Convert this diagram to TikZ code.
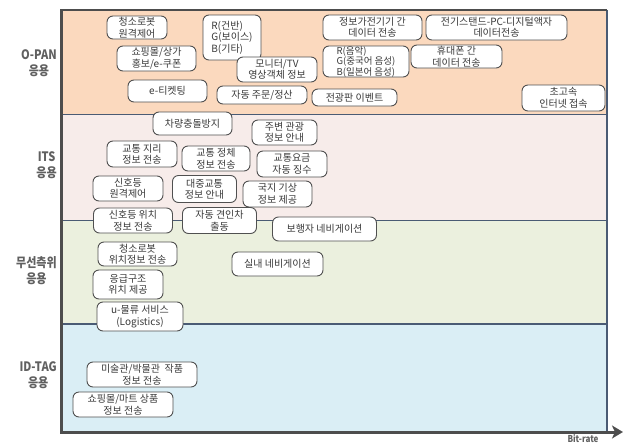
\documentclass[tikz,border=0pt]{standalone}
\usepackage{fontspec}
\setmainfont{Noto Sans CJK KR}
\newfontfamily\labfont[FakeStretch=0.85]{Noto Sans CJK KR}
\usetikzlibrary{arrows.meta}
\definecolor{opanfill}{HTML}{FBD9BE}
\definecolor{itsfill}{HTML}{F7ECEA}
\definecolor{posfill}{HTML}{EBF0DE}
\definecolor{tagfill}{HTML}{DAEEF5}
\definecolor{divline}{HTML}{4A5B74}
\definecolor{axisline}{HTML}{4D4D4D}
\definecolor{boxline}{HTML}{505050}
\definecolor{boxtext}{HTML}{3A3A3A}
\definecolor{cattext}{HTML}{606060}
\begin{document}
\begin{tikzpicture}[x=1pt,y=-1pt,
  box/.style={draw=boxline, fill=white, rounded corners=6pt, line width=0.9pt,
    align=center, inner xsep=2pt, inner ysep=1pt, text=boxtext,
    font=\fontsize{10}{11.5}\selectfont},
  lbox/.style={box, align=left, font=\fontsize{9.5}{10.5}\selectfont, inner ysep=0pt},
  cat/.style={anchor=east, align=center, text=cattext, inner sep=0pt,
    font=\labfont\bfseries\fontsize{13}{16}\selectfont},
  divider/.style={draw=divline, line width=1.4pt},
  topline/.style={draw=axisline, line width=2pt},
  axis/.style={draw=axisline, line width=3pt, line join=miter}]
\useasboundingbox (0,0) rectangle (624,445);
% bands
\fill[opanfill] (61,10) rectangle (607,114.5);
\fill[itsfill] (61,114.5) rectangle (607,220.5);
\fill[posfill] (61,220.5) rectangle (607,324);
\fill[tagfill] (61,324) rectangle (607,432);
\draw[divider] (61,114.5) -- (607,114.5);
\draw[divider] (61,220.5) -- (607,220.5);
\draw[divider] (61,324) -- (607,324);
\draw[divider] (607,10) -- (607,432);
\draw[topline] (61,10) -- (607,10);
% axes
\coordinate (ytop) at (61,9);
\coordinate (origin) at (61,432);
\coordinate (xend) at (623,432);
\draw[axis, -{Stealth[length=11pt,width=13pt,inset=3pt]}] (ytop) -- (origin) -- (xend);
\node[anchor=base, inner sep=0pt, text=cattext, font=\labfont\bfseries\fontsize{9.5}{10}\selectfont] (bitrate) at (583,442.5) {Bit-rate};
% category labels
\node[cat] (lopan) at (57,63) {O-PAN\\응용};
\node[cat] (lits) at (57,165) {ITS\\응용};
\node[cat] (lpos) at (57,271) {무선측위\\응용};
\node[cat] (ltag) at (57,375) {ID-TAG\\응용};
% O-PAN
\node[box, minimum width=60pt, minimum height=23pt] (cleanrobot) at (137,27.5) {청소로봇\\원격제어};
\node[lbox, minimum width=58pt, minimum height=45pt, font=\fontsize{10}{11.5}\selectfont] (rgbone) at (232,37.5) {R(건반)\\G(보이스)\\B(기타)};
\node[box, minimum width=79pt, minimum height=25pt] (shopping) at (156.5,58.5) {쇼핑몰/상가\\홍보/e-쿠폰};
\node[box, minimum width=80pt, minimum height=25pt] (monitor) at (277,69.5) {모니터/TV\\영상객체 정보};
\node[box, minimum width=79pt, minimum height=22pt] (eticket) at (167.5,91) {e-티켓팅};
\node[box, minimum width=90pt, minimum height=18pt] (autoorder) at (262,95) {자동 주문/정산};
\node[box, minimum width=99pt, minimum height=25pt] (appliance) at (372.5,27.5) {정보가전기기 간\\데이터 전송};
\node[box, minimum width=141pt, minimum height=25pt] (lamp) at (496.5,27.5) {전기스탠드-PC-디지털액자\\데이터전송};
\node[lbox, minimum width=86pt, minimum height=31pt] (rgbtwo) at (366,61.5) {R(음악)\\G(중국어 음성)\\B(일본어 음성)};
\node[box, minimum width=91pt, minimum height=23pt] (phone) at (456.5,56.5) {휴대폰 간\\데이터 전송};
\node[box, minimum width=85pt, minimum height=17pt] (billboard) at (354.5,97.5) {전광판 이벤트};
\node[box, minimum width=83pt, minimum height=26pt] (internet) at (563.5,98) {초고속\\인터넷 접속};
% ITS
\node[box, minimum width=79pt, minimum height=23pt] (collision) at (192.5,123.5) {차량충돌방지};
\node[box, minimum width=65pt, minimum height=25pt] (tour) at (284.5,132.5) {주변 관광\\정보 안내};
\node[box, minimum width=70pt, minimum height=26pt] (geo) at (142,154) {교통 지리\\정보 전송};
\node[box, minimum width=68pt, minimum height=25pt] (jam) at (216,158.5) {교통 정체\\정보 전송};
\node[box, minimum width=70pt, minimum height=26pt] (toll) at (292,164) {교통요금\\자동 징수};
\node[box, minimum width=70pt, minimum height=25pt] (signal) at (128,188.5) {신호등\\원격제어};
\node[box, minimum width=64pt, minimum height=27pt] (transit) at (204.5,189) {대중교통\\정보 안내};
\node[box, minimum width=69pt, minimum height=26pt] (weather) at (277.5,194) {국지 기상\\정보 제공};
\node[box, minimum width=79pt, minimum height=25pt] (signalpos) at (133,220.5) {신호등 위치\\정보 전송};
\node[box, minimum width=74pt, minimum height=26pt] (tow) at (219.5,220.5) {자동 견인차\\출동};
\node[box, minimum width=104pt, minimum height=24pt] (pedestrian) at (324.5,229) {보행자 네비게이션};
% positioning
\node[box, minimum width=79pt, minimum height=24pt] (cleanpos) at (137.5,254) {청소로봇\\위치정보 전송};
\node[box, minimum width=91pt, minimum height=24pt] (indoor) at (277.5,264) {실내 네비게이션};
\node[box, minimum width=70pt, minimum height=29pt] (rescue) at (128,284.5) {응급구조\\위치 제공};
\node[box, minimum width=86pt, minimum height=29pt] (logistics) at (140,316.5) {u-물류 서비스\\(Logistics)};
% ID-TAG
\node[box, minimum width=110pt, minimum height=25pt] (museum) at (142,374.5) {미술관/박물관\ \ 작품\\정보 전송};
\node[box, minimum width=100pt, minimum height=25pt] (mart) at (123,404.5) {쇼핑몰/마트 상품\\정보 전송};
\end{tikzpicture}
\end{document}
